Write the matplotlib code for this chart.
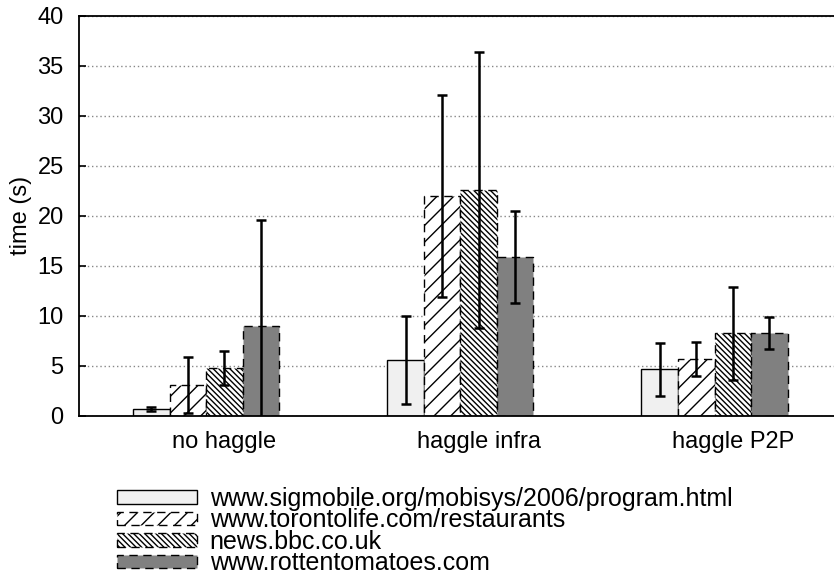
import matplotlib.pyplot as plt
import numpy as np

plt.rcParams["font.family"] = ["Liberation Sans", "DejaVu Sans"]
plt.rcParams["hatch.linewidth"] = 1.0

groups = ["no haggle", "haggle infra", "haggle P2P"]
sites = [
    "www.sigmobile.org/mobisys/2006/program.html",
    "www.torontolife.com/restaurants",
    "news.bbc.co.uk",
    "www.rottentomatoes.com",
]

# mean load time per site, one value per group
sigmobile_mean = [0.65, 5.6, 4.65]
toronto_mean = [3.1, 22.0, 5.7]
bbc_mean = [4.8, 22.6, 8.25]
rotten_mean = [9.0, 15.9, 8.3]

sigmobile_err = [0.2, 4.4, 2.65]
toronto_err = [2.8, 10.1, 1.7]
bbc_err = [1.7, 13.8, 4.65]
rotten_err = [10.6, 4.6, 1.63]

means = [sigmobile_mean, toronto_mean, bbc_mean, rotten_mean]
errs = [sigmobile_err, toronto_err, bbc_err, rotten_err]

dash = (0, (6, 4))
styles = [
    dict(color="#f0f0f0", linestyle="-", hatch=None),
    dict(color="white", linestyle=dash, hatch="//"),
    dict(color="white", linestyle=dash, hatch="\\\\\\\\\\\\"),
    dict(color="#808080", linestyle=dash, hatch=None),
]

fig = plt.figure(figsize=(8.34, 5.81), dpi=100)
ax = fig.add_axes([0.0947, 0.284, 0.9053, 0.689])

x = np.arange(len(groups))
width = 0.1437
offsets = [-1.5, -0.5, 0.5, 1.5]

handles = []
for i in range(4):
    st = styles[i]
    b = ax.bar(x + offsets[i] * width, means[i], width,
               facecolor=st["color"], edgecolor="black",
               linestyle=st["linestyle"], linewidth=1.0, hatch=st["hatch"],
               label=sites[i], zorder=2)
    handles.append(b)
    ax.errorbar(x + offsets[i] * width, means[i], yerr=errs[i], fmt="none",
                ecolor="black", elinewidth=1.8, capsize=3.5, capthick=1.8,
                zorder=3)

ax.set_ylim(0, 40)
ax.set_xlim(-0.5, 2.47)
ax.set_yticks(range(0, 41, 5))
# gnuplot puts the group labels a half bar to the right
ax.set_xticks(x + width / 2)
ax.set_xticklabels(groups)
ax.tick_params(axis="y", direction="in", length=5, labelsize=17, width=1.2, pad=11)
ax.tick_params(axis="x", length=0, labelsize=17, pad=11)
ax.set_ylabel("time (s)", fontsize=17, labelpad=4)

ax.yaxis.grid(True, linestyle=(0, (1, 2)), color="#888888", linewidth=1.0, zorder=0)
ax.set_axisbelow(True)
ax.spines["right"].set_visible(False)
for s in ["left", "top", "bottom"]:
    ax.spines[s].set_linewidth(1.3)

fig.legend(handles=handles, loc="upper left", bbox_to_anchor=(0.14, 0.162),
           frameon=False, fontsize=18, handlelength=3.2, handleheight=0.48,
           handletextpad=0.52, labelspacing=-0.1, borderpad=0, borderaxespad=0)

fig.savefig("out.png", dpi=100)
